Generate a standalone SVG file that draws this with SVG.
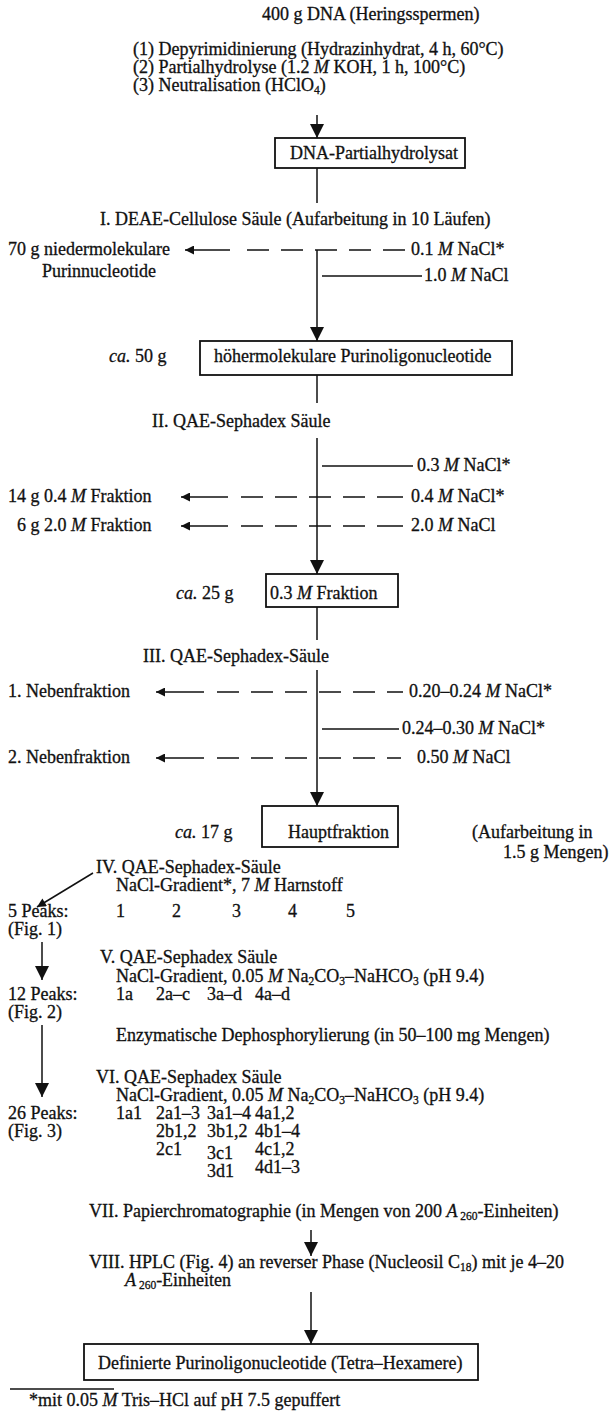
<svg xmlns="http://www.w3.org/2000/svg" width="609" height="1418" viewBox="0 0 609 1418">
<style>
.t{font-family:"Liberation Serif","Times New Roman",serif;font-size:18px;fill:#111;stroke:#111;stroke-width:0.3}
.box{fill:#fff;stroke:#111;stroke-width:1.8}
.ln{stroke:#111;stroke-width:1.5;fill:none}
.i{font-style:italic}
.s{font-size:11.5px}
</style>
<defs>
<marker id="av" viewBox="0 0 10 10" refX="10" refY="5" markerUnits="userSpaceOnUse" markerWidth="17" markerHeight="14" orient="auto"><path d="M0,0 L10,5 L0,10 z" fill="#111"/></marker>
<marker id="ah" viewBox="0 0 10 10" refX="10" refY="5" markerUnits="userSpaceOnUse" markerWidth="16" markerHeight="9" orient="auto"><path d="M0,0 L10,5 L0,10 z" fill="#111"/></marker>
</defs>
<rect width="609" height="1418" fill="#fff"/>

<g id="connectors">
<line class="ln" x1="317" y1="115" x2="317" y2="138" marker-end="url(#av)"/>
<line class="ln" x1="317" y1="168" x2="317" y2="203"/>
<!-- I -->
<line class="ln" x1="230" y1="250" x2="185" y2="250" marker-end="url(#ah)"/>
<path class="ln" d="M247,250H269M281,250H303M315,250H337M349,250H371M383,250H405"/>
<line class="ln" x1="317" y1="250" x2="317" y2="341" marker-end="url(#av)"/>
<line class="ln" x1="322" y1="276" x2="422" y2="276"/>
<line class="ln" x1="317" y1="375" x2="317" y2="403"/>
<!-- II -->
<line class="ln" x1="317" y1="438" x2="317" y2="574" marker-end="url(#av)"/>
<line class="ln" x1="322" y1="466" x2="413" y2="466"/>
<line class="ln" x1="228" y1="497" x2="181" y2="497" marker-end="url(#ah)"/>
<path class="ln" d="M241,497H263M275,497H297M309,497H331M343,497H365M377,497H403"/>
<line class="ln" x1="228" y1="526" x2="181" y2="526" marker-end="url(#ah)"/>
<path class="ln" d="M241,526H263M275,526H297M309,526H331M343,526H365M377,526H403"/>
<line class="ln" x1="317" y1="607" x2="317" y2="640"/>
<!-- III -->
<line class="ln" x1="317" y1="670" x2="317" y2="806" marker-end="url(#av)"/>
<line class="ln" x1="204" y1="692" x2="156" y2="692" marker-end="url(#ah)"/>
<path class="ln" d="M217,692H239M251,692H273M285,692H307M319,692H341M353,692H375M387,692H403"/>
<line class="ln" x1="322" y1="729" x2="399" y2="729"/>
<line class="ln" x1="204" y1="758" x2="156" y2="758" marker-end="url(#ah)"/>
<path class="ln" d="M217,758H239M251,758H273M285,758H307M319,758H341M353,758H375M387,758H401"/>
<!-- lower -->
<line class="ln" x1="93" y1="873" x2="37" y2="907" marker-end="url(#ah)"/>
<line class="ln" x1="42" y1="942" x2="42" y2="980" marker-end="url(#av)"/>
<line class="ln" x1="42" y1="1025" x2="42" y2="1097" marker-end="url(#av)"/>
<line class="ln" x1="311" y1="1230" x2="311" y2="1256" marker-end="url(#av)"/>
<line class="ln" x1="311" y1="1292" x2="311" y2="1344" marker-end="url(#av)"/>
<line class="ln" x1="10" y1="1389" x2="114" y2="1389"/>
</g>

<g id="start">
<text class="t" x="262" y="20">400 g DNA (Heringsspermen)</text>
<text class="t" x="133" y="55">(1) Depyrimidinierung (Hydrazinhydrat, 4 h, 60°C)</text>
<text class="t" x="133" y="73">(2) Partialhydrolyse (1.2 <tspan class="i">M</tspan> KOH, 1 h, 100°C)</text>
<text class="t" x="133" y="91">(3) Neutralisation (HClO<tspan class="s" dy="3">4</tspan><tspan dy="-3">)</tspan></text>
</g>

<g id="n-hydrolysat">
<rect class="box" x="275" y="138" width="190" height="30"/>
<text class="t" x="290" y="159">DNA-Partialhydrolysat</text>
</g>

<g id="step1">
<text class="t" x="100" y="225">I. DEAE-Cellulose Säule (Aufarbeitung in 10 Läufen)</text>
<text class="t" x="8" y="255">70 g niedermolekulare</text>
<text class="t" x="42" y="277">Purinnucleotide</text>
<text class="t" x="411" y="255">0.1 <tspan class="i">M</tspan> NaCl*</text>
<text class="t" x="424" y="281">1.0 <tspan class="i">M</tspan> NaCl</text>
</g>

<g id="n-hoeher">
<rect class="box" x="200" y="341" width="312" height="34"/>
<text class="t" x="214" y="362">höhermolekulare Purinoligonucleotide</text>
<text class="t" x="109" y="362"><tspan class="i">ca.</tspan> 50 g</text>
</g>

<g id="step2">
<text class="t" x="152" y="427">II. QAE-Sephadex Säule</text>
<text class="t" x="417" y="471">0.3 <tspan class="i">M</tspan> NaCl*</text>
<text class="t" x="8" y="502">14 g 0.4 <tspan class="i">M</tspan> Fraktion</text>
<text class="t" x="411" y="502">0.4 <tspan class="i">M</tspan> NaCl*</text>
<text class="t" x="17" y="531">6 g 2.0 <tspan class="i">M</tspan> Fraktion</text>
<text class="t" x="411" y="531">2.0 <tspan class="i">M</tspan> NaCl</text>
</g>

<g id="n-fraktion03">
<rect class="box" x="266" y="574" width="132" height="33"/>
<text class="t" x="270" y="599">0.3 <tspan class="i">M</tspan> Fraktion</text>
<text class="t" x="176" y="599"><tspan class="i">ca.</tspan> 25 g</text>
</g>

<g id="step3">
<text class="t" x="143" y="662">III. QAE-Sephadex-Säule</text>
<text class="t" x="8" y="697">1. Nebenfraktion</text>
<text class="t" x="409" y="697">0.20–0.24 <tspan class="i">M</tspan> NaCl*</text>
<text class="t" x="402" y="734">0.24–0.30 <tspan class="i">M</tspan> NaCl*</text>
<text class="t" x="8" y="763">2. Nebenfraktion</text>
<text class="t" x="417" y="763">0.50 <tspan class="i">M</tspan> NaCl</text>
</g>

<g id="n-haupt">
<rect class="box" x="262" y="806" width="136" height="41"/>
<text class="t" x="288" y="838">Hauptfraktion</text>
<text class="t" x="175" y="838"><tspan class="i">ca.</tspan> 17 g</text>
<text class="t" x="472" y="838">(Aufarbeitung in</text>
<text class="t" x="503" y="858">1.5 g Mengen)</text>
</g>

<g id="step4">
<text class="t" x="96" y="873">IV. QAE-Sephadex-Säule</text>
<text class="t" x="116" y="891">NaCl-Gradient*, 7 <tspan class="i">M</tspan> Harnstoff</text>
<text class="t" x="8" y="917">5 Peaks:</text>
<text class="t" x="8" y="935">(Fig. 1)</text>
<text class="t" x="116" y="917">1</text>
<text class="t" x="172" y="917">2</text>
<text class="t" x="232" y="917">3</text>
<text class="t" x="288" y="917">4</text>
<text class="t" x="346" y="917">5</text>
</g>

<g id="step5">
<text class="t" x="100" y="963">V. QAE-Sephadex Säule</text>
<text class="t" x="116" y="982">NaCl-Gradient, 0.05 <tspan class="i">M</tspan> Na<tspan class="s" dy="3">2</tspan><tspan dy="-3">CO</tspan><tspan class="s" dy="3">3</tspan><tspan dy="-3">–NaHCO</tspan><tspan class="s" dy="3">3</tspan><tspan dy="-3"> (pH 9.4)</tspan></text>
<text class="t" x="8" y="1000">12 Peaks:</text>
<text class="t" x="8" y="1018">(Fig. 2)</text>
<text class="t" x="116" y="1000">1a</text>
<text class="t" x="156" y="1000">2a–c</text>
<text class="t" x="207" y="1000">3a–d</text>
<text class="t" x="255" y="1000">4a–d</text>
<text class="t" x="116" y="1041">Enzymatische Dephosphorylierung (in 50–100 mg Mengen)</text>
</g>

<g id="step6">
<text class="t" x="96" y="1083">VI. QAE-Sephadex Säule</text>
<text class="t" x="116" y="1101">NaCl-Gradient, 0.05 <tspan class="i">M</tspan> Na<tspan class="s" dy="3">2</tspan><tspan dy="-3">CO</tspan><tspan class="s" dy="3">3</tspan><tspan dy="-3">–NaHCO</tspan><tspan class="s" dy="3">3</tspan><tspan dy="-3"> (pH 9.4)</tspan></text>
<text class="t" x="8" y="1119">26 Peaks:</text>
<text class="t" x="8" y="1137">(Fig. 3)</text>
<text class="t" x="116" y="1119">1a1</text>
<text class="t" x="156" y="1119">2a1–3</text>
<text class="t" x="207" y="1119">3a1–4</text>
<text class="t" x="255" y="1119">4a1,2</text>
<text class="t" x="156" y="1137">2b1,2</text>
<text class="t" x="207" y="1137">3b1,2</text>
<text class="t" x="255" y="1137">4b1–4</text>
<text class="t" x="156" y="1155">2c1</text>
<text class="t" x="207" y="1159">3c1</text>
<text class="t" x="255" y="1155">4c1,2</text>
<text class="t" x="207" y="1177">3d1</text>
<text class="t" x="255" y="1173">4d1–3</text>
</g>

<g id="step7">
<text class="t" x="89" y="1217">VII. Papierchromatographie (in Mengen von 200 <tspan class="i">A</tspan><tspan class="s" dy="3"> 260</tspan><tspan dy="-3">-Einheiten)</tspan></text>
</g>

<g id="step8">
<text class="t" x="89" y="1268">VIII. HPLC (Fig. 4) an reverser Phase (Nucleosil C<tspan class="s" dy="3">18</tspan><tspan dy="-3">) mit je 4–20</tspan></text>
<text class="t" x="125" y="1286"><tspan class="i">A</tspan><tspan class="s" dy="3"> 260</tspan><tspan dy="-3">-Einheiten</tspan></text>
</g>

<g id="n-final">
<rect class="box" x="84" y="1344" width="394" height="36"/>
<text class="t" x="98" y="1369">Definierte Purinoligonucleotide (Tetra–Hexamere)</text>
</g>

<g id="footnote">
<text class="t" x="29" y="1406">*mit 0.05 <tspan class="i">M</tspan> Tris–HCl auf pH 7.5 gepuffert</text>
</g>
</svg>
